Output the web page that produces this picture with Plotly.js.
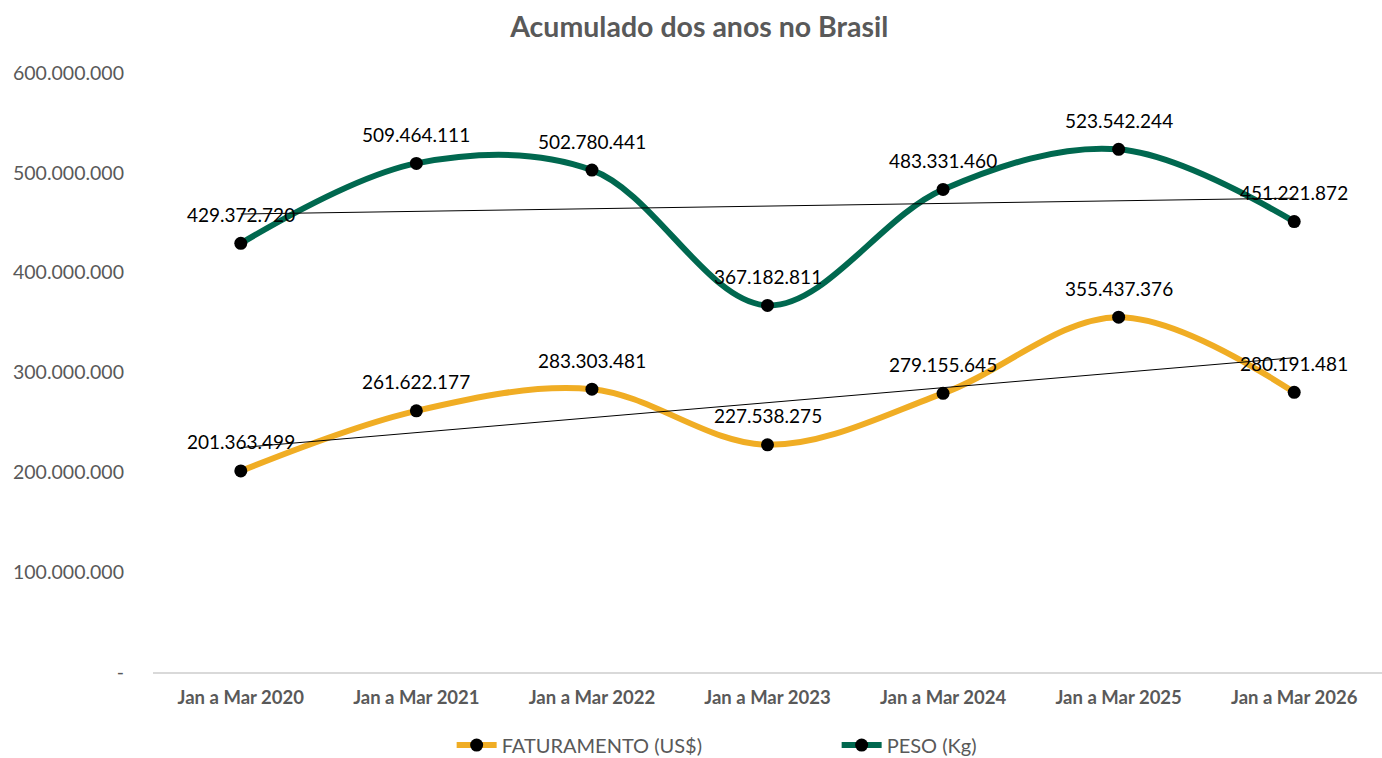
<!DOCTYPE html>
<html><head><meta charset="utf-8">
<script src="https://cdn.plot.ly/plotly-3.0.1.min.js"></script>
<style>html,body{margin:0;padding:0;background:#fff}#chart{width:1382px;height:758px}</style>
</head><body><div id="chart"></div>
<script>
const categories = ["Jan a Mar 2020","Jan a Mar 2021","Jan a Mar 2022","Jan a Mar 2023","Jan a Mar 2024","Jan a Mar 2025","Jan a Mar 2026"];
const faturamento = [201363499, 261622177, 283303481, 227538275, 279155645, 355437376, 280191481];
const peso = [429372720, 509464111, 502780441, 367182811, 483331460, 523542244, 451221872];
const yTickVals = [0,100000000,200000000,300000000,400000000,500000000,600000000];
const yTickText = ["-","100.000.000","200.000.000","300.000.000","400.000.000","500.000.000","600.000.000"];

const fmt = v => String(v).replace(/\B(?=(\d{3})+(?!\d))/g, ".");
function trend(vals){
  const n = vals.length, xs = vals.map((_,i)=>i);
  const mx = xs.reduce((a,b)=>a+b,0)/n, my = vals.reduce((a,b)=>a+b,0)/n;
  let sxy=0,sxx=0; xs.forEach((x,i)=>{sxy+=(x-mx)*(vals[i]-my);sxx+=(x-mx)*(x-mx);});
  const b = sxy/sxx, a = my-b*mx;
  return xs.map(x=>a+b*x);
}
const xi = categories.map((_,i)=>i);
const FONT = "Lato, 'Open Sans', sans-serif";
const orange = "#F0AD24", green = "#00684F";

const traces = [
  {x:xi, y:faturamento, name:"FATURAMENTO (US$)", mode:"lines+markers", line:{color:orange,width:6,shape:"spline",smoothing:1}, marker:{color:"#000",size:13}},
  {x:xi, y:peso, name:"PESO (Kg)", mode:"lines+markers", line:{color:green,width:6,shape:"spline",smoothing:1}, marker:{color:"#000",size:13}},
  {x:xi, y:trend(faturamento), mode:"lines", line:{color:"#000",width:1}, showlegend:false, hoverinfo:"skip"},
  {x:xi, y:trend(peso), mode:"lines", line:{color:"#000",width:1}, showlegend:false, hoverinfo:"skip"}
];
const annotations = [];
[faturamento, peso].forEach(arr => arr.forEach((v,i)=>{
  annotations.push({x:i, y:v, xref:"x", yref:"y", text:fmt(v), showarrow:false, yshift:29, font:{family:FONT,size:19,color:"#000"}});
}));

const layout = {
  width:1382, height:758,
  margin:{l:153, r:0, t:73, b:86, autoexpand:false},
  paper_bgcolor:"#fff", plot_bgcolor:"#fff",
  title:{text:"Acumulado dos anos no Brasil", x:0.506, xanchor:"center", y:0.964, yanchor:"middle", font:{family:FONT,size:28.5,color:"#595959",weight:"bold"}},
  xaxis:{range:[-0.5,6.5], tickvals:xi, ticktext:categories, showgrid:false, zeroline:false, showline:true, linecolor:"#D9D9D9", linewidth:1.5, ticks:"", ticklabelstandoff:8, tickfont:{family:FONT,size:18.5,color:"#595959",weight:"bold"}, fixedrange:true},
  yaxis:{range:[0,600000000], tickvals:yTickVals, ticktext:yTickText, showgrid:false, zeroline:false, showline:false, ticks:"", ticklabelstandoff:28, tickfont:{family:FONT,size:19.5,color:"#595959"}, fixedrange:true},
  showlegend:true,
  legend:{orientation:"h", x:0.243, xanchor:"left", y:-0.122, yanchor:"middle", font:{family:FONT,size:20,color:"#595959"}, itemwidth:40, tracegroupgap:0, entrywidth:330},
  annotations:annotations
};
Plotly.newPlot("chart", traces, layout, {displayModeBar:false, staticPlot:true});
</script></body></html>
